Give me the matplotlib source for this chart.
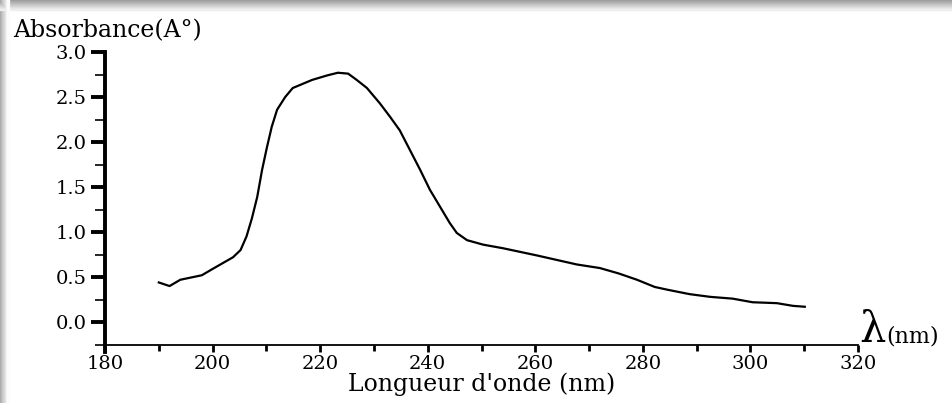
import matplotlib.pyplot as plt
from matplotlib.ticker import MultipleLocator, FormatStrFormatter
from matplotlib.patches import Rectangle

# wavelength (nm) and absorbance
wavelength = [190.0, 192.0, 194.0, 198.0, 200.0, 203.8, 205.2, 206.3, 207.3,
              208.3, 209.2, 210.1, 211.0, 212.0, 213.5, 214.9, 216.5, 218.5,
              221.3, 223.3, 225.2, 226.8, 228.7, 231.1, 233.0, 234.8, 236.7,
              238.6, 240.4, 242.3, 244.1, 245.4, 247.3, 250.3, 254.0, 260.3,
              267.7, 272.0, 275.5, 278.9, 282.2, 284.5, 288.7, 292.5, 296.7,
              300.4, 304.9, 307.9, 310.1]
absorbance = [0.44, 0.40, 0.47, 0.52, 0.59, 0.72, 0.80, 0.95, 1.15,
              1.39, 1.69, 1.94, 2.17, 2.36, 2.50, 2.60, 2.64, 2.69,
              2.74, 2.77, 2.76, 2.69, 2.60, 2.43, 2.28, 2.13, 1.91,
              1.69, 1.47, 1.28, 1.10, 0.99, 0.91, 0.86, 0.82, 0.74,
              0.64, 0.60, 0.54, 0.47, 0.39, 0.36, 0.31, 0.28, 0.26,
              0.22, 0.21, 0.18, 0.17]

plt.rcParams['font.family'] = ['DejaVu Serif']

fig = plt.figure(figsize=(9.52, 4.03), dpi=100)

# grey drop shadow round the picture edges
for i in range(10):
    g = 0.62 + 0.035 * i
    fig.patches.append(Rectangle((0, 1 - (i + 1) / 403), 1, 1 / 403 + 0.001,
                                 transform=fig.transFigure, color=str(min(g, 1)),
                                 zorder=0))
    fig.patches.append(Rectangle((i / 952 * 0.8, 0), 1 / 952 + 0.001, 1,
                                 transform=fig.transFigure, color=str(min(g + 0.05, 1)),
                                 zorder=0))

ax = fig.add_axes([0.1103, 0.1439, 0.791, 0.727])
ax.plot(wavelength, absorbance, color='black', lw=1.6)

ax.set_xlim(180, 320)
ax.set_ylim(-0.255, 3.0)
ax.spines['top'].set_visible(False)
ax.spines['right'].set_visible(False)
ax.spines['left'].set_linewidth(2.8)
ax.spines['bottom'].set_linewidth(1.3)
ax.spines['left'].set_bounds(-0.33, 3.0)

ax.xaxis.set_major_locator(MultipleLocator(20))
ax.xaxis.set_minor_locator(MultipleLocator(10))
ax.yaxis.set_major_locator(MultipleLocator(0.5))
ax.yaxis.set_minor_locator(MultipleLocator(0.25))
ax.yaxis.set_major_formatter(FormatStrFormatter('%.1f'))

ax.tick_params(axis='y', which='major', length=10, width=2.8, labelsize=14, pad=3)
ax.tick_params(axis='y', which='minor', length=7, width=1.2)
ax.tick_params(axis='x', which='major', length=5, width=2, labelsize=14, pad=2)
ax.tick_params(axis='x', which='minor', length=4, width=2)

ax.set_xlabel("Longueur d'onde (nm)", fontsize=17, labelpad=0)
fig.text(0.014, 0.925, "Absorbance(A°)", fontsize=17, ha='left', va='center')
fig.text(0.903, 0.18, "λ", fontsize=30, ha='left', va='center')
fig.text(0.931, 0.165, "(nm)", fontsize=16, ha='left', va='center')

fig.savefig('out.png', dpi=100)
